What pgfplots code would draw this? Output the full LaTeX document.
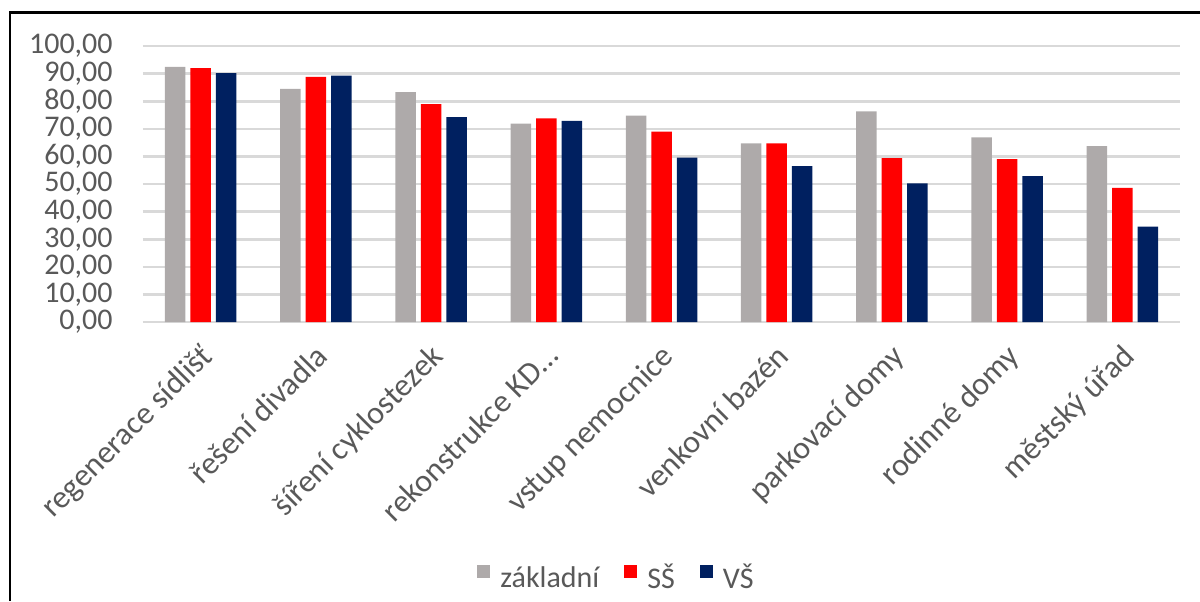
\documentclass[border=0pt]{standalone}
\usepackage{fontspec}
\setmainfont{Carlito}
\usepackage{pgfplots}
\pgfplotsset{compat=1.18}
\definecolor{cgray}{HTML}{AEAAAA}
\definecolor{cred}{HTML}{FF0000}
\definecolor{cnavy}{HTML}{002060}
\definecolor{ctext}{HTML}{595959}
\definecolor{cgrid}{HTML}{D9D9D9}
\pgfplotsset{sq/.style={legend image code/.code={\fill[##1] (0pt,0pt) rectangle (6.5pt,6.5pt);}}}
\begin{document}
\begin{tikzpicture}
\useasboundingbox (0,0) rectangle (600pt,300.5pt);
\draw[line width=1.3pt] (5pt,0) -- (5pt,294.2pt) -- (600.5pt,294.2pt);
\begin{axis}[
  at={(71.5pt,139.5pt)}, anchor=south west,
  scale only axis, width=518.5pt, height=138pt,
  xmin=-0.5, xmax=8.5, ymin=0, ymax=100,
  ytick={0,10,...,100},
  xtick={0,...,8},
  xticklabels={regenerace sídlišť, řešení divadla, šíření cyklostezek, rekonstrukce KD…, vstup nemocnice, venkovní bazén, parkovací domy, rodinné domy, městský úřad},
  axis line style={draw=none},
  major tick length=0pt,
  ymajorgrids, grid style={cgrid, line width=1.3pt},
  /pgf/number format/assume math mode=true,
  yticklabel={\pgfmathprintnumber[fixed,fixed zerofill,precision=2,use comma]{\tick}},
  tick label style={text=ctext, font=\fontsize{15}{18}\selectfont},
  yticklabel style={anchor=east, inner sep=0pt, xshift=-15pt},
  xticklabel style={xshift=-1pt, yshift=-10pt, rotate=45, anchor=north east, inner sep=0pt, font=\fontsize{16}{19}\selectfont},
  ybar, bar width=10.25pt,
  legend columns=3,
  legend style={at={(0.322,-0.928)}, anchor=west, draw=none, fill=none,
    inner sep=0pt, nodes={inner sep=0pt, text=ctext},
    font=\fontsize{15}{18}\selectfont,
    /tikz/every odd column/.append style={column sep=5pt},
    /tikz/every even column/.append style={column sep=12.5pt}},
]
\addplot[fill=cgray, draw=none, bar shift=-12.75pt, sq] coordinates {(0,92.4) (1,84.5) (2,83.3) (3,71.9) (4,74.8) (5,64.7) (6,76.3) (7,66.9) (8,63.7)};
\addplot[fill=cred, draw=none, bar shift=0pt, sq] coordinates {(0,92.0) (1,88.8) (2,78.9) (3,73.8) (4,69.0) (5,64.7) (6,59.4) (7,59.0) (8,48.6)};
\addplot[fill=cnavy, draw=none, bar shift=12.75pt, sq] coordinates {(0,90.2) (1,89.3) (2,74.2) (3,72.9) (4,59.6) (5,56.5) (6,50.2) (7,52.9) (8,34.6)};
\legend{základní, SŠ, VŠ}
\end{axis}
\end{tikzpicture}
\end{document}
